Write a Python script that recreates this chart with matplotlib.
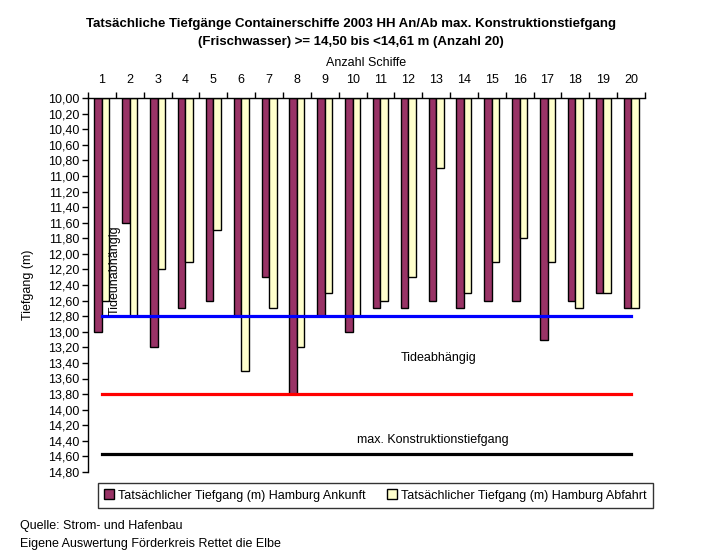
import numpy as np
import matplotlib.pyplot as plt
from matplotlib.ticker import FixedLocator, FuncFormatter

plt.rcParams['font.family'] = ['Liberation Sans Narrow', 'Liberation Sans', 'DejaVu Sans']

# Data: Tiefgang (m) per ship
schiffe = list(range(1, 21))
ankunft = [13.00, 11.60, 13.20, 12.70, 12.60, 12.80, 12.30, 13.80, 12.80, 13.00,
           12.70, 12.70, 12.60, 12.70, 12.60, 12.60, 13.10, 12.60, 12.50, 12.70]
abfahrt = [12.60, 12.80, 12.20, 12.10, 11.70, 13.50, 12.70, 13.20, 12.50, 12.80,
           12.60, 12.30, 10.90, 12.50, 12.10, 11.80, 12.10, 12.70, 12.50, 12.70]
tideunabhaengig = 12.80
tideabhaengig = 13.80
konstruktion = 14.57

W, H = 703, 557
fig = plt.figure(figsize=(W / 100, H / 100), dpi=100)
ax = fig.add_axes([88 / W, 1 - 472 / H, (645 - 88) / W, (472 - 98) / H])

x = np.array(schiffe)
bw = 0.27
base = 10.0
ax.bar(x - bw / 2, np.array(ankunft) - base, bottom=base, width=bw,
       color='#993366', edgecolor='black', linewidth=1.0,
       label='Tatsächlicher Tiefgang (m) Hamburg Ankunft', zorder=2)
ax.bar(x + bw / 2, np.array(abfahrt) - base, bottom=base, width=bw,
       color='#FFFFCC', edgecolor='black', linewidth=1.0,
       label='Tatsächlicher Tiefgang (m) Hamburg Abfahrt', zorder=2)

ax.plot([1, 20], [tideunabhaengig] * 2, color='#0000FF', lw=2.3, zorder=3)
ax.plot([1, 20], [tideabhaengig] * 2, color='#FF0000', lw=2.3, zorder=3)
ax.plot([1, 20], [konstruktion] * 2, color='black', lw=2.3, zorder=3)

ax.text(1.45, 12.78, 'Tideunabhängig', rotation=90, ha='center', va='bottom',
        fontsize=9, zorder=4)
ax.text(11.72, 13.34, 'Tideabhängig', ha='left', va='center', fontsize=9)
ax.text(12.87, 14.39, 'max. Konstruktionstiefgang', ha='center', va='center', fontsize=9)

ax.set_xlim(0.5, 20.5)
ax.set_ylim(14.8, 10.0)

# x axis on top: ticks at boundaries, labels at centers
ax.xaxis.tick_top()
ax.xaxis.set_label_position('top')
ax.xaxis.set_major_locator(FixedLocator(np.arange(0.5, 21, 1)))
ax.xaxis.set_major_formatter(FuncFormatter(lambda v, p: ''))
ax.xaxis.set_minor_locator(FixedLocator(x))
ax.set_xticklabels([str(s) for s in schiffe], minor=True)
ax.tick_params(axis='x', which='major', direction='out', length=4, width=1)
ax.tick_params(axis='x', which='minor', length=0, labelsize=9, pad=8.5)
ax.set_xlabel('Anzahl Schiffe', fontsize=9, labelpad=6)

yt = np.round(np.arange(10.0, 14.81, 0.2), 2)
ax.set_yticks(yt)
ax.set_yticklabels([f'{v:.2f}'.replace('.', ',') for v in yt])
ax.tick_params(axis='y', direction='out', length=4, width=1, labelsize=9, pad=2)
ax.set_ylabel('Tiefgang (m)', fontsize=9, labelpad=10)

for s in ['right', 'bottom']:
    ax.spines[s].set_visible(False)
ax.spines['left'].set_linewidth(1)
ax.spines['top'].set_linewidth(1)

fig.text(351 / W, 1 - 24 / H,
         'Tatsächliche Tiefgänge Containerschiffe 2003 HH An/Ab max. Konstruktionstiefgang',
         ha='center', va='center', fontsize=9.5, fontweight='bold')
fig.text(351 / W, 1 - 42 / H, '(Frischwasser) >= 14,50 bis <14,61 m (Anzahl 20)',
         ha='center', va='center', fontsize=9.5, fontweight='bold')

leg = ax.legend(loc='center', ncol=2, mode='expand',
                bbox_to_anchor=(92 / W, 1 - 508 / H, (659 - 92) / W, 25 / H),
                bbox_transform=fig.transFigure, fontsize=9, frameon=True,
                fancybox=False, handlelength=0.8, handleheight=0.8,
                handletextpad=0.3, borderpad=0.5)
leg.get_frame().set_edgecolor('black')
leg.get_frame().set_linewidth(1)

fig.text(20 / W, 1 - 526 / H, 'Quelle: Strom- und Hafenbau', ha='left', va='center', fontsize=9)
fig.text(20 / W, 1 - 544 / H, 'Eigene Auswertung Förderkreis Rettet die Elbe',
         ha='left', va='center', fontsize=9)

fig.savefig('out.png', dpi=100)
